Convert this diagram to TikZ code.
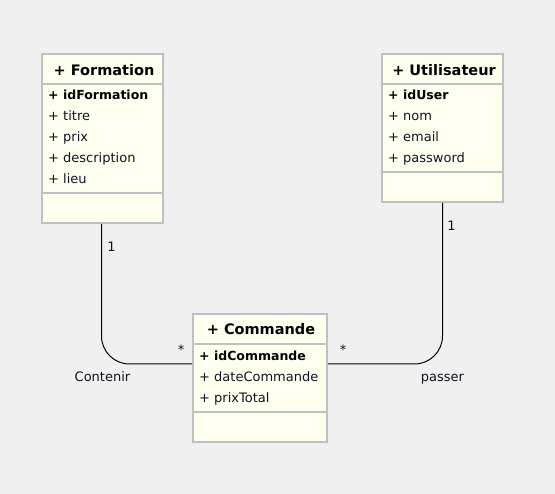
\documentclass[tikz,border=0pt]{standalone}
\usepackage{fontspec}
\setmainfont{DejaVu Sans}
\usetikzlibrary{positioning}
\definecolor{bgcol}{RGB}{240,240,240}
\definecolor{boxfill}{RGB}{255,255,240}
\definecolor{boxline}{RGB}{192,192,192}
\definecolor{txt}{RGB}{15,20,35}

\begin{document}
\begin{tikzpicture}[x=1pt,y=-1pt,
  classbox/.style={draw=boxline,fill=boxfill,line width=2pt,inner sep=0pt},
  boxsep/.style={draw=boxline,line width=2pt},
  classname/.style={anchor=base,inner sep=0pt,font=\fontsize{14.5}{16}\bfseries,text=black},
  attr/.style={anchor=base west,inner sep=0pt,font=\fontsize{13}{15}\selectfont,text=txt},
  keyattr/.style={attr,font=\fontsize{12.5}{15}\bfseries,text=black},
  assoc/.style={draw=black,line width=1pt,rounded corners=28pt},
  lbl/.style={anchor=base,inner sep=0pt,font=\fontsize{13}{15}\selectfont,text=txt}]
\useasboundingbox [fill=bgcol] (0,0) rectangle (555,494);

\node (formation) [classbox,minimum width=121,minimum height=169] at (102.5,138.5) {};
\draw [boxsep] (formation.west |- 0,84) -- (formation.east |- 0,84);
\draw [boxsep] (formation.west |- 0,193) -- (formation.east |- 0,193);
\node (formationname) [classname] at (104,75.5) {+ Formation};
\node (idformation) [keyattr] at (48,100) {+ idFormation};
\node (titre) [attr] at (48,121) {+ titre};
\node (prix) [attr] at (48,142) {+ prix};
\node (description) [attr] at (48,163) {+ description};
\node (lieu) [attr] at (48,184) {+ lieu};

\node (utilisateur) [classbox,minimum width=121,minimum height=148] at (442.5,128) {};
\draw [boxsep] (utilisateur.west |- 0,84) -- (utilisateur.east |- 0,84);
\draw [boxsep] (utilisateur.west |- 0,172) -- (utilisateur.east |- 0,172);
\node (utilisateurname) [classname] at (444,75.5) {+ Utilisateur};
\node (iduser) [keyattr] at (388,100) {+ idUser};
\node (nom) [attr] at (388,121) {+ nom};
\node (email) [attr] at (388,142) {+ email};
\node (password) [attr] at (388,163) {+ password};

\node (commande) [classbox,minimum width=134,minimum height=128] at (260,378) {};
\draw [boxsep] (commande.west |- 0,344) -- (commande.east |- 0,344);
\draw [boxsep] (commande.west |- 0,412) -- (commande.east |- 0,412);
\node (commandename) [classname] at (261,335) {+ Commande};
\node (idcommande) [keyattr] at (199,360.5) {+ idCommande};
\node (datecommande) [attr] at (199,381.5) {+ dateCommande};
\node (prixtotal) [attr] at (199,402.5) {+ prixTotal};

\draw [assoc] ([xshift=-1pt]formation.south) |- ([yshift=14pt]commande.west);
\draw [assoc] (utilisateur.south) |- ([yshift=14pt]commande.east);

\node (contenirone) [lbl] at (111.5,252) {1};
\node (contenirmany) [lbl] at (181,355) {*};
\node (contenir) [lbl] at (102.5,381.5) {Contenir};
\node (passerone) [lbl] at (451.5,231) {1};
\node (passermany) [lbl] at (343,355) {*};
\node (passer) [lbl] at (442.5,381.5) {passer};
\end{tikzpicture}
\end{document}
